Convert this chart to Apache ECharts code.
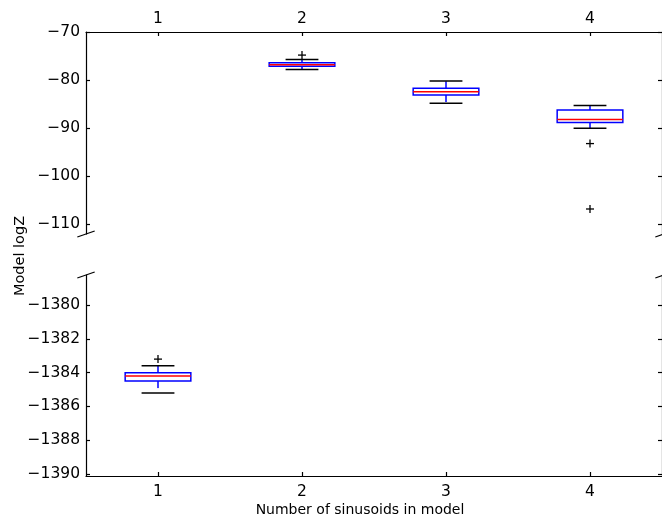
<!DOCTYPE html>
<html>
<head>
<meta charset="utf-8">
<script src="https://cdn.jsdelivr.net/npm/echarts@6/dist/echarts.min.js"></script>
<style>
  html, body { margin: 0; padding: 0; background: #fff; }
  #chart { width: 662px; height: 524px; }
</style>
</head>
<body>
<div id="chart"></div>
<script>
// Models with 1..4 sinusoids
const categories = ['1', '2', '3', '4'];
// Box statistics of the log-evidence per model
const lowerWhisker  = [-1385.2, -77.8, -84.8, -90.0];
const lowerQuartile = [-1384.5, -77.1, -83.1, -88.8];
const medians       = [-1384.2, -76.8, -82.4, -88.2];
const upperQuartile = [-1384.0, -76.4, -81.7, -86.2];
const upperWhisker  = [-1383.6, -75.7, -80.2, -85.3];
// Outliers as [model index, logZ]
const outliers = [[0, -1383.2], [1, -74.8], [3, -93.2], [3, -106.8]];
// Tick values of the two y-axis segments
const upperTicks = [-110, -100, -90, -80, -70];
const lowerTicks = [-1390, -1388, -1386, -1384, -1382, -1380];
const upperRange = [-112, -70];
const lowerRange = [-1390.12, -1378.22];

const FONT = 'DejaVu Sans';
const TICK_FONT_SIZE = 15.5;
const NAME_FONT_SIZE = 14;
const GRID_LEFT = 86, GRID_WIDTH = 578;
const TOP_GRID = { top: 32, height: 202 };
const BOT_GRID = { top: 275, height: 201 };

const inRange = (v, r) => v >= r[0] && v <= r[1];
const boxRows = categories.map((c, i) => [i, lowerWhisker[i], lowerQuartile[i], medians[i], upperQuartile[i], upperWhisker[i]]);
const upperBoxes = boxRows.filter(r => inRange(r[3], upperRange));
const lowerBoxes = boxRows.filter(r => inRange(r[3], lowerRange));
const upperOutliers = outliers.filter(o => inRange(o[1], upperRange));
const lowerOutliers = outliers.filter(o => inRange(o[1], lowerRange));

const minus = v => String(v).replace('-', '\u2212');

function renderBox(params, api) {
  const x = api.value(0);
  const pLow = api.coord([x, api.value(1)]);
  const pQ1 = api.coord([x, api.value(2)]);
  const pMed = api.coord([x, api.value(3)]);
  const pQ3 = api.coord([x, api.value(4)]);
  const pHigh = api.coord([x, api.value(5)]);
  const band = api.size([1, 0])[0];
  const hw = band * 0.228;
  const cw = hw / 2;
  const cx = pMed[0];
  const blue = '#0000ff';
  const lw = 1.5;
  const dashed = { stroke: blue, lineWidth: lw, lineDash: [7, 7] };
  return {
    type: 'group',
    children: [
      { type: 'line', shape: { x1: cx, y1: pQ1[1], x2: cx, y2: pLow[1] }, style: dashed },
      { type: 'line', shape: { x1: cx, y1: pQ3[1], x2: cx, y2: pHigh[1] }, style: dashed },
      { type: 'line', shape: { x1: cx - cw, y1: pLow[1], x2: cx + cw, y2: pLow[1] }, style: { stroke: '#000', lineWidth: lw } },
      { type: 'line', shape: { x1: cx - cw, y1: pHigh[1], x2: cx + cw, y2: pHigh[1] }, style: { stroke: '#000', lineWidth: lw } },
      { type: 'rect', shape: { x: cx - hw, y: pQ3[1], width: 2 * hw, height: pQ1[1] - pQ3[1] }, style: { stroke: blue, fill: null, lineWidth: lw } },
      { type: 'line', shape: { x1: cx - hw, y1: pMed[1], x2: cx + hw, y2: pMed[1] }, style: { stroke: '#ff0000', lineWidth: lw } }
    ]
  };
}

function renderPlus(params, api) {
  const p = api.coord([api.value(0), api.value(1)]);
  const s = 4;
  const st = { stroke: '#000', lineWidth: 1.3 };
  return {
    type: 'group',
    children: [
      { type: 'line', shape: { x1: p[0] - s, y1: p[1], x2: p[0] + s, y2: p[1] }, style: st },
      { type: 'line', shape: { x1: p[0], y1: p[1] - s, x2: p[0], y2: p[1] + s }, style: st }
    ]
  };
}

const lineSt = { color: '#000', width: 1.2 };
function xAxisFor(gridIndex, position, margin) {
  return {
    gridIndex, type: 'category', data: categories, position,
    boundaryGap: true,
    axisLine: { show: true, lineStyle: lineSt },
    axisTick: { show: true, inside: true, alignWithLabel: true, length: 4, lineStyle: lineSt },
    axisLabel: { color: '#000', fontSize: TICK_FONT_SIZE, fontFamily: FONT, margin },
    splitLine: { show: false }
  };
}
function yAxisFor(gridIndex, position, range, ticks, labels) {
  return {
    gridIndex, type: 'value', position, min: range[0], max: range[1],
    axisLine: { show: true, onZero: false, lineStyle: lineSt },
    axisTick: { show: true, inside: true, length: 4, lineStyle: lineSt, customValues: ticks },
    axisLabel: { show: labels, color: '#000', fontSize: TICK_FONT_SIZE, fontFamily: FONT, margin: 6, customValues: ticks, formatter: minus },
    splitLine: { show: false }
  };
}

// Diagonal break marks at the edges where the two y-axis segments meet
function breakMarks() {
  const d = 0.015;
  const dx = d * GRID_WIDTH;
  const marks = [];
  const yTop = TOP_GRID.top + TOP_GRID.height;
  const yBot = BOT_GRID.top;
  const dyTop = d * TOP_GRID.height, dyBot = d * BOT_GRID.height;
  [GRID_LEFT, GRID_LEFT + GRID_WIDTH].forEach(x => {
    marks.push({ type: 'line', shape: { x1: x - dx, y1: yTop + dyTop, x2: x + dx, y2: yTop - dyTop }, style: { stroke: '#000', lineWidth: 1.2 } });
    marks.push({ type: 'line', shape: { x1: x - dx, y1: yBot + dyBot, x2: x + dx, y2: yBot - dyBot }, style: { stroke: '#000', lineWidth: 1.2 } });
  });
  return marks;
}

const chart = echarts.init(document.getElementById('chart'), null, { renderer: 'canvas' });
chart.setOption({
  animation: false,
  backgroundColor: '#fff',
  grid: [
    { left: GRID_LEFT, width: GRID_WIDTH, top: TOP_GRID.top, height: TOP_GRID.height },
    { left: GRID_LEFT, width: GRID_WIDTH, top: BOT_GRID.top, height: BOT_GRID.height }
  ],
  xAxis: [
    xAxisFor(0, 'top', 5),
    xAxisFor(1, 'bottom', 8)
  ],
  yAxis: [
    yAxisFor(0, 'left', upperRange, upperTicks, true),
    yAxisFor(0, 'right', upperRange, upperTicks, false),
    yAxisFor(1, 'left', lowerRange, lowerTicks, true),
    yAxisFor(1, 'right', lowerRange, lowerTicks, false)
  ],
  series: [
    { type: 'custom', xAxisIndex: 0, yAxisIndex: 0, data: upperBoxes, renderItem: renderBox, encode: { x: 0, y: [1, 2, 3, 4, 5] } },
    { type: 'custom', xAxisIndex: 1, yAxisIndex: 2, data: lowerBoxes, renderItem: renderBox, encode: { x: 0, y: [1, 2, 3, 4, 5] } },
    { type: 'custom', xAxisIndex: 0, yAxisIndex: 0, data: upperOutliers, renderItem: renderPlus, encode: { x: 0, y: 1 } },
    { type: 'custom', xAxisIndex: 1, yAxisIndex: 2, data: lowerOutliers, renderItem: renderPlus, encode: { x: 0, y: 1 } }
  ],
  // Figure-level axis titles shared by both panels
  graphic: breakMarks().concat([
    {
      type: 'text', x: 20, y: 256, rotation: Math.PI / 2,
      style: { text: 'Model logZ', fill: '#000', fontSize: NAME_FONT_SIZE + 0.5, fontFamily: FONT, align: 'center', verticalAlign: 'middle' }
    },
    {
      type: 'text', x: 360, y: 510,
      style: { text: 'Number of sinusoids in model', fill: '#000', fontSize: NAME_FONT_SIZE, fontFamily: FONT, align: 'center', verticalAlign: 'middle' }
    }
  ])
});
</script>
</body>
</html>
